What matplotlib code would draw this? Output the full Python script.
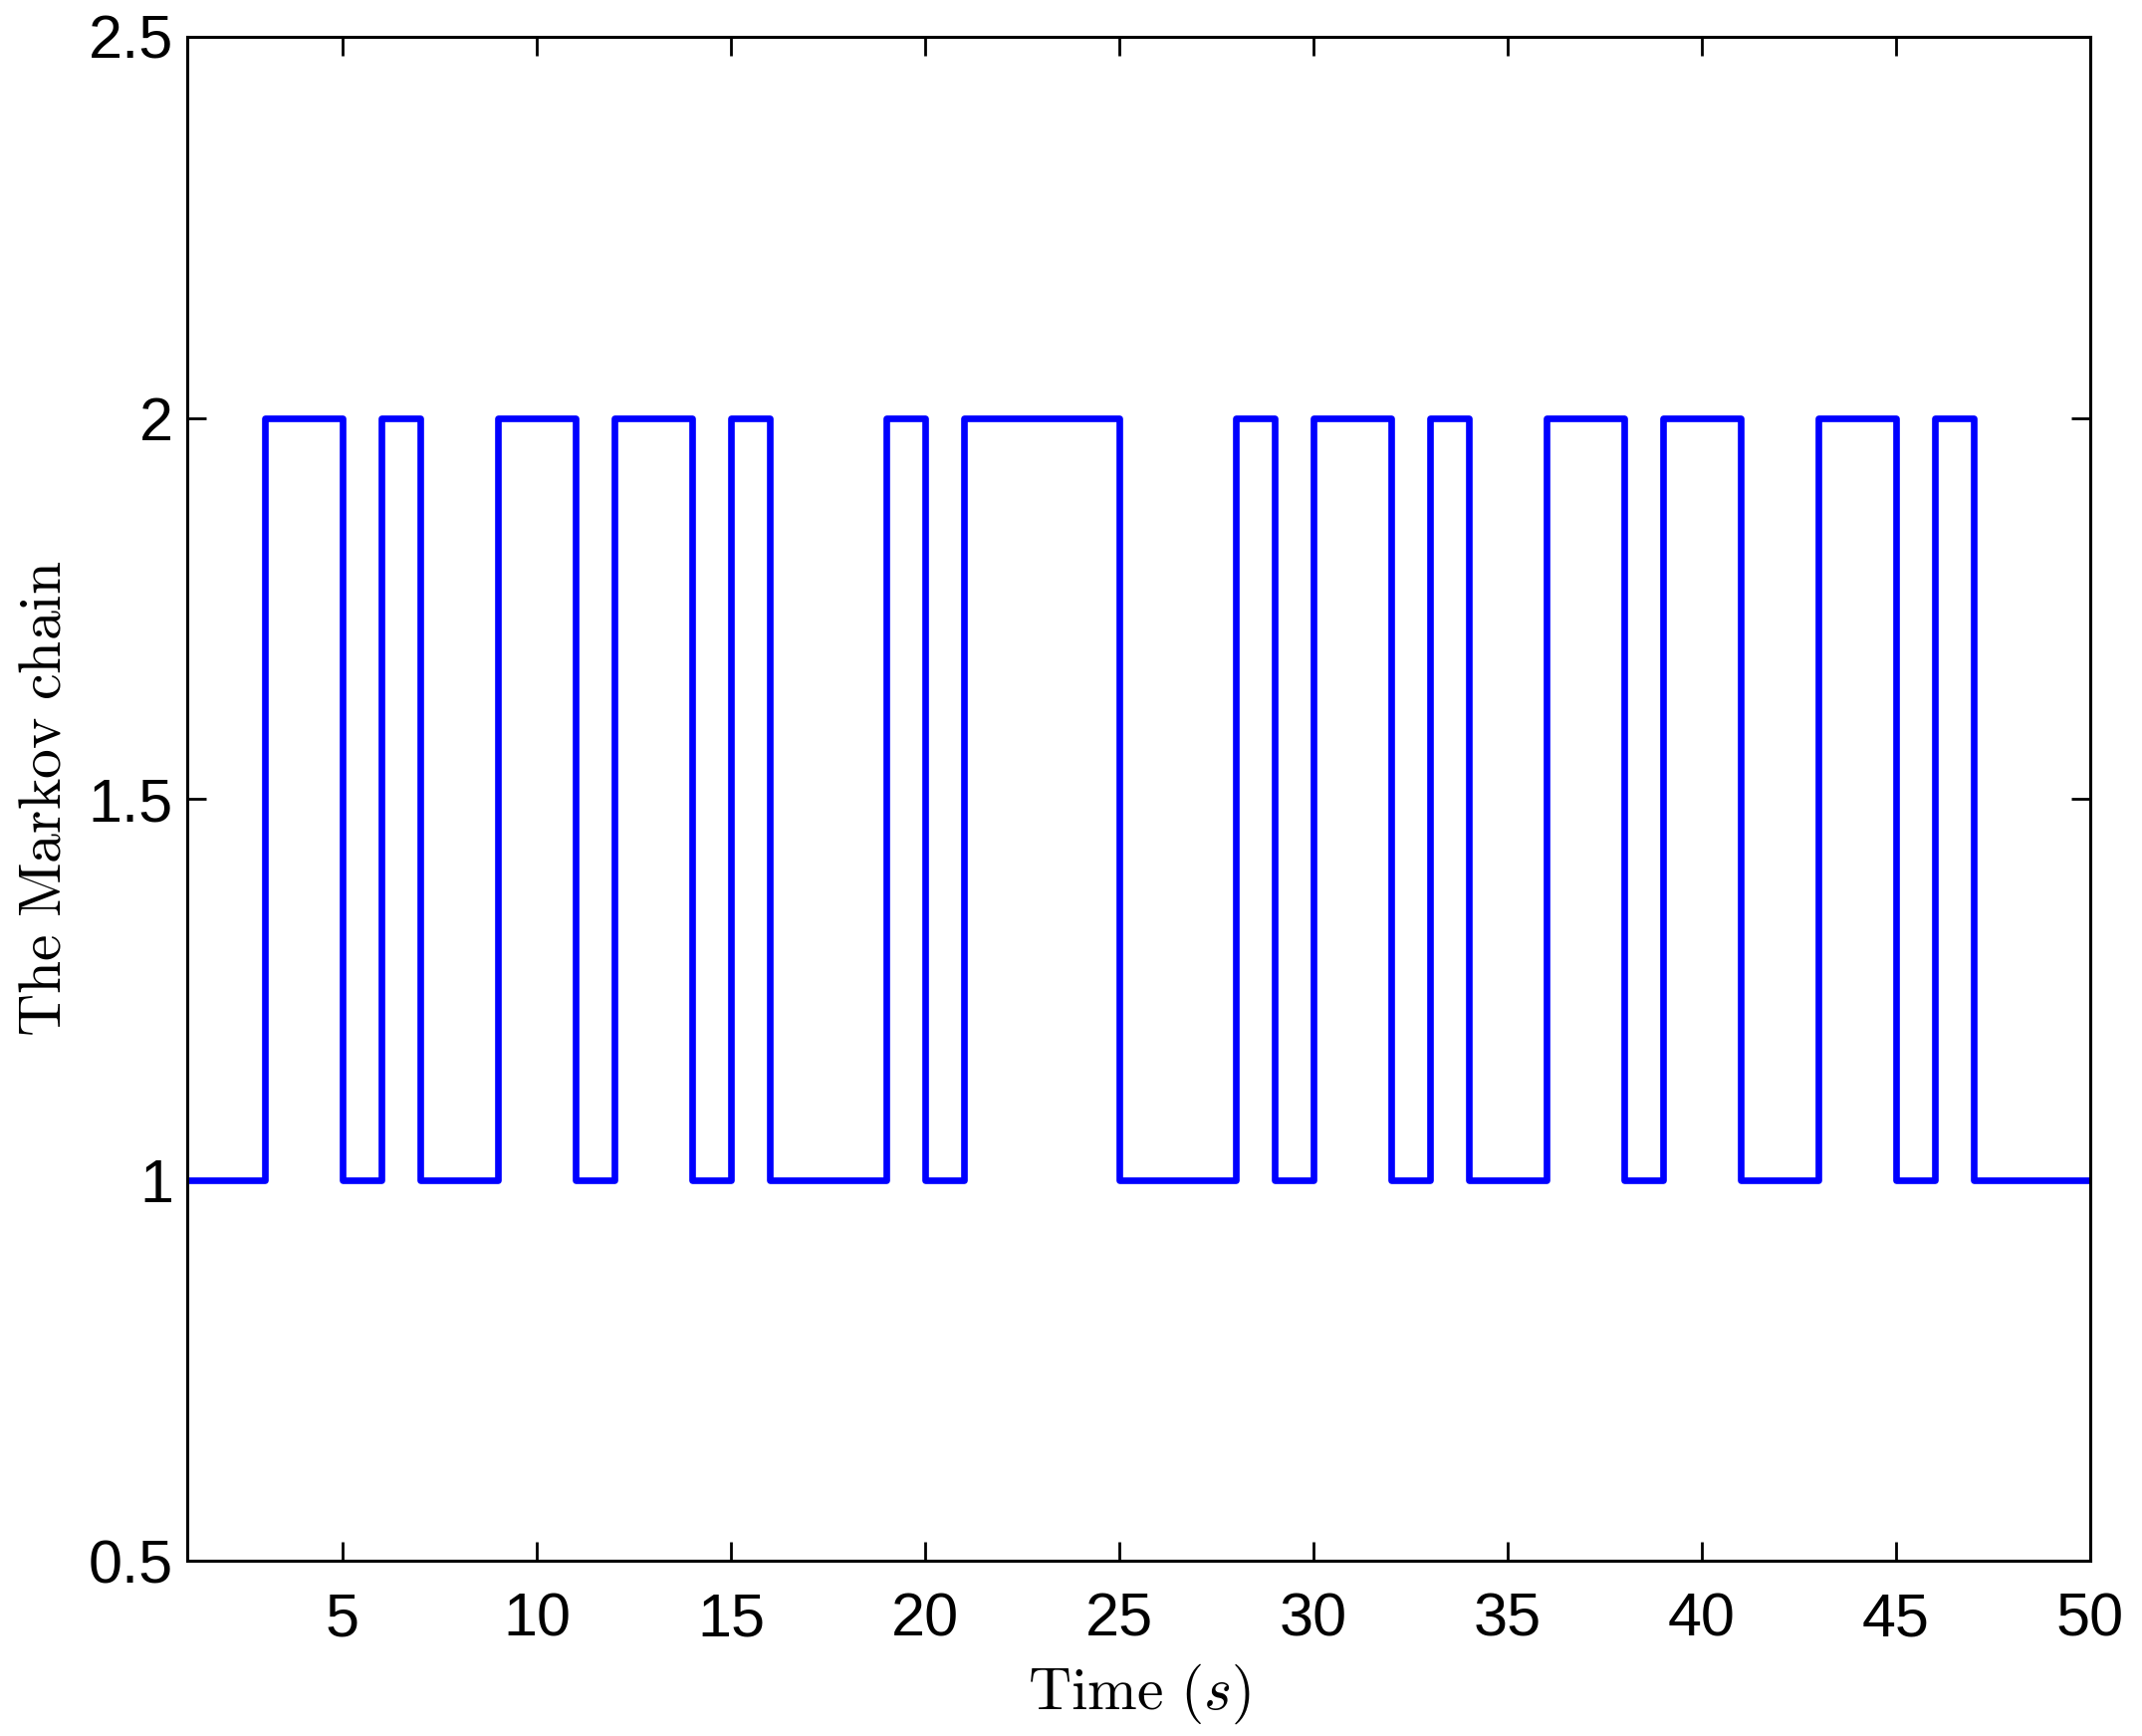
import matplotlib
matplotlib.use('Agg')
import matplotlib.pyplot as plt

# time steps and the state of the chain at each step
t = list(range(1, 51))
state = [1, 1, 2, 2, 1, 2, 1, 1, 2, 2,
         1, 2, 2, 1, 2, 1, 1, 1, 2, 1,
         2, 2, 2, 2, 1, 1, 1, 2, 1, 2,
         2, 1, 2, 1, 1, 2, 2, 1, 2, 2,
         1, 1, 2, 2, 1, 2, 1, 1, 1, 1]

xticks = [5, 10, 15, 20, 25, 30, 35, 40, 45, 50]
yticks = [0.5, 1, 1.5, 2, 2.5]
ytick_labels = ['0.5', '1', '1.5', '2', '2.5']

plt.rcParams['mathtext.fontset'] = 'cm'
plt.rcParams['font.family'] = ['Liberation Sans', 'DejaVu Sans']

fig = plt.figure(figsize=(10.755, 8.715), dpi=200)
ax = fig.add_axes([0.0874, 0.1007, 0.8884, 0.8781])

ax.step(t, state, where='post', color='#0000ff', linewidth=2.4)

ax.set_xlim(1, 50)
ax.set_ylim(0.5, 2.5)
ax.set_xticks(xticks)
ax.set_yticks(yticks)
ax.set_yticklabels(ytick_labels)

ax.tick_params(direction='in', length=7, width=1.0, labelsize=22,
               top=True, right=True)
ax.tick_params(axis='x', pad=11)
ax.tick_params(axis='y', pad=5)
for sp in ax.spines.values():
    sp.set_linewidth(1.1)

ax.set_xlabel(r'$\mathrm{Time}\ (s)$', fontsize=21.5, labelpad=5)
ax.set_ylabel(r'$\mathrm{The\ Markov\ chain}$', fontsize=21.5, labelpad=6)

fig.savefig('out.png', dpi=200)
